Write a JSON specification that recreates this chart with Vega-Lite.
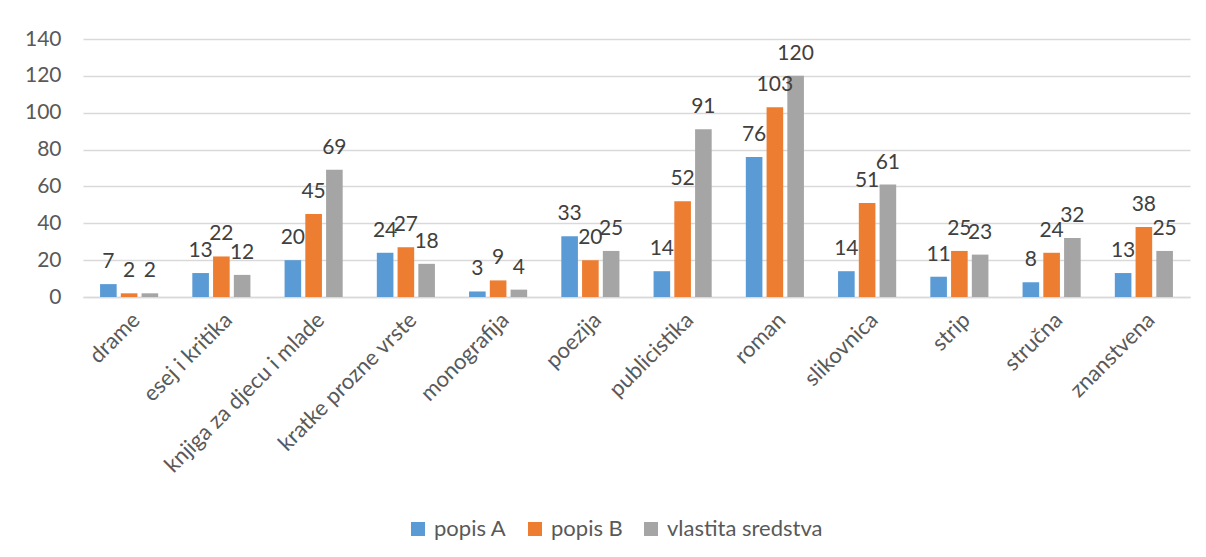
{
  "$schema": "https://vega.github.io/schema/vega-lite/v6.json",
  "autosize": {"type": "none"},
  "width": 1107,
  "height": 258,
  "padding": {"left": 83, "top": 39, "right": 16, "bottom": 260},
  "background": "white",
  "data": {
    "values": [
      {"cat": "drame", "series": "popis A", "v": 7},
      {"cat": "drame", "series": "popis B", "v": 2},
      {"cat": "drame", "series": "vlastita sredstva", "v": 2},
      {"cat": "esej i kritika", "series": "popis A", "v": 13},
      {"cat": "esej i kritika", "series": "popis B", "v": 22},
      {"cat": "esej i kritika", "series": "vlastita sredstva", "v": 12},
      {"cat": "knjiga za djecu i mlade", "series": "popis A", "v": 20},
      {"cat": "knjiga za djecu i mlade", "series": "popis B", "v": 45},
      {"cat": "knjiga za djecu i mlade", "series": "vlastita sredstva", "v": 69},
      {"cat": "kratke prozne vrste", "series": "popis A", "v": 24},
      {"cat": "kratke prozne vrste", "series": "popis B", "v": 27},
      {"cat": "kratke prozne vrste", "series": "vlastita sredstva", "v": 18},
      {"cat": "monografija", "series": "popis A", "v": 3},
      {"cat": "monografija", "series": "popis B", "v": 9},
      {"cat": "monografija", "series": "vlastita sredstva", "v": 4},
      {"cat": "poezija", "series": "popis A", "v": 33},
      {"cat": "poezija", "series": "popis B", "v": 20},
      {"cat": "poezija", "series": "vlastita sredstva", "v": 25},
      {"cat": "publicistika", "series": "popis A", "v": 14},
      {"cat": "publicistika", "series": "popis B", "v": 52},
      {"cat": "publicistika", "series": "vlastita sredstva", "v": 91},
      {"cat": "roman", "series": "popis A", "v": 76},
      {"cat": "roman", "series": "popis B", "v": 103},
      {"cat": "roman", "series": "vlastita sredstva", "v": 120},
      {"cat": "slikovnica", "series": "popis A", "v": 14},
      {"cat": "slikovnica", "series": "popis B", "v": 51},
      {"cat": "slikovnica", "series": "vlastita sredstva", "v": 61},
      {"cat": "strip", "series": "popis A", "v": 11},
      {"cat": "strip", "series": "popis B", "v": 25},
      {"cat": "strip", "series": "vlastita sredstva", "v": 23},
      {"cat": "stručna", "series": "popis A", "v": 8},
      {"cat": "stručna", "series": "popis B", "v": 24},
      {"cat": "stručna", "series": "vlastita sredstva", "v": 32},
      {"cat": "znanstvena", "series": "popis A", "v": 13},
      {"cat": "znanstvena", "series": "popis B", "v": 38},
      {"cat": "znanstvena", "series": "vlastita sredstva", "v": 25}
    ]
  },
  "encoding": {
    "x": {
      "field": "cat", "type": "nominal", "sort": null, "title": null,
      "scale": {"paddingInner": 0.37, "paddingOuter": 0.185},
      "axis": {
        "labelAngle": -45, "labelFontSize": 22, "labelColor": "#595959",
        "labelFont": "Lato", "ticks": false, "domainColor": "#d9d9d9",
        "domainWidth": 1.5, "labelPadding": 12, "labelLimit": 400
      }
    },
    "xOffset": {"field": "series", "type": "nominal", "scale": {"paddingInner": 0.2}},
    "y": {
      "field": "v", "type": "quantitative", "title": null,
      "scale": {"domain": [0, 140], "nice": false},
      "axis": {
        "values": [0, 20, 40, 60, 80, 100, 120, 140],
        "labelFontSize": 21, "labelColor": "#595959", "labelFont": "Lato",
        "ticks": false, "domain": false, "gridColor": "#d9d9d9",
        "gridWidth": 1.5, "labelPadding": 22
      }
    }
  },
  "layer": [
    {
      "mark": {"type": "bar"},
      "encoding": {
        "color": {
          "field": "series", "type": "nominal", "title": null,
          "scale": {
            "domain": ["popis A", "popis B", "vlastita sredstva"],
            "range": ["#5B9BD5", "#ED7D31", "#A5A5A5"]
          },
          "legend": {
            "orient": "none", "direction": "horizontal",
            "legendX": 324, "legendY": 479,
            "symbolType": "square", "symbolSize": 196,
            "symbolStrokeWidth": 0,
            "labelFontSize": 22, "labelColor": "#595959", "labelFont": "Lato",
            "columnPadding": 17, "labelOffset": 5
          }
        }
      }
    },
    {
      "mark": {
        "type": "text", "baseline": "alphabetic", "dy": -16,
        "fontSize": 21, "font": "Lato", "color": "#404040"
      },
      "encoding": {"text": {"field": "v", "type": "quantitative"}}
    }
  ],
  "config": {"view": {"stroke": null}}
}
